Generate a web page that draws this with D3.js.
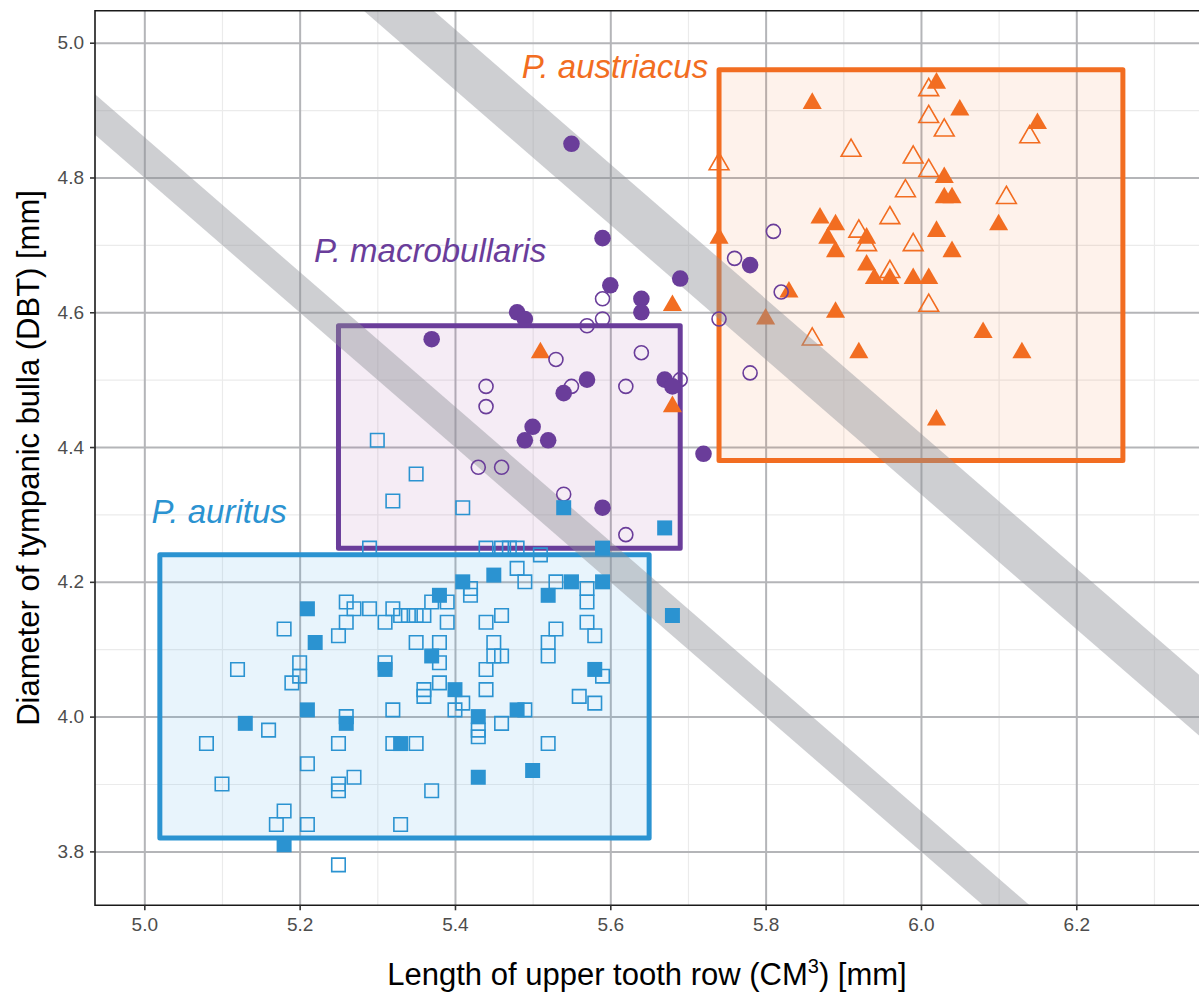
<!DOCTYPE html>
<html>
<head>
<meta charset="utf-8">
<script src="https://d3js.org/d3.v7.min.js"></script>
<style>
  body { margin: 0; background: #fff; }
  svg { display: block; font-family: "Liberation Sans", Arial, Helvetica, sans-serif; }
</style>
</head>
<body>
<svg id="chart" width="1199" height="994"></svg>
<script>
// ---- data ----
var xTicks = [5.0, 5.2, 5.4, 5.6, 5.8, 6.0, 6.2];
var yTicks = [3.8, 4.0, 4.2, 4.4, 4.6, 4.8, 5.0];
var xMinor = [5.1, 5.3, 5.5, 5.7, 5.9, 6.1, 6.3];
var yMinor = [3.9, 4.1, 4.3, 4.5, 4.7, 4.9];

// P. auritus (squares)
var auritusFilled = [
  [5.54,4.31],[5.67,4.28],[5.59,4.25],[5.68,4.15],[5.45,4.21],[5.41,4.20],[5.55,4.20],
  [5.59,4.20],[5.52,4.18],[5.38,4.18],[5.21,4.16],[5.22,4.11],[5.37,4.09],[5.31,4.07],
  [5.58,4.07],[5.40,4.04],[5.21,4.01],[5.48,4.01],[5.43,4.00],[5.13,3.99],[5.26,3.99],
  [5.33,3.96],[5.50,3.92],[5.43,3.91],[5.18,3.81]
];
var auritusOpen = [
  [5.30,4.41],[5.35,4.36],[5.32,4.32],[5.41,4.31],
  [5.29,4.25],[5.44,4.25],[5.46,4.25],[5.47,4.25],[5.48,4.25],[5.51,4.24],[5.48,4.22],
  [5.49,4.20],[5.53,4.20],[5.42,4.19],[5.57,4.19],[5.42,4.18],
  [5.26,4.17],[5.37,4.17],[5.39,4.17],[5.57,4.17],[5.27,4.16],[5.29,4.16],[5.32,4.16],
  [5.33,4.15],[5.34,4.15],[5.35,4.15],[5.36,4.15],[5.46,4.15],
  [5.26,4.14],[5.31,4.14],[5.39,4.14],[5.44,4.14],[5.57,4.14],[5.18,4.13],[5.53,4.13],
  [5.25,4.12],[5.58,4.12],[5.35,4.11],[5.38,4.11],[5.45,4.11],[5.52,4.11],
  [5.45,4.09],[5.46,4.09],[5.52,4.09],[5.20,4.08],[5.31,4.08],[5.38,4.08],
  [5.12,4.07],[5.44,4.07],[5.20,4.06],[5.59,4.06],[5.19,4.05],[5.38,4.05],
  [5.36,4.04],[5.44,4.04],[5.36,4.03],[5.56,4.03],[5.41,4.02],[5.58,4.02],
  [5.32,4.01],[5.40,4.01],[5.49,4.01],[5.26,4.00],[5.46,3.99],[5.16,3.98],[5.43,3.98],
  [5.43,3.97],[5.08,3.96],[5.25,3.96],[5.32,3.96],[5.35,3.96],[5.52,3.96],
  [5.21,3.93],[5.27,3.91],[5.10,3.90],[5.25,3.90],[5.25,3.89],[5.37,3.89],
  [5.18,3.86],[5.17,3.84],[5.21,3.84],[5.33,3.84],[5.25,3.78]
];

// P. macrobullaris (circles)
var macroFilled = [
  [5.55,4.85],[5.59,4.71],[5.60,4.64],[5.69,4.65],[5.64,4.62],[5.64,4.60],[5.48,4.60],
  [5.49,4.59],[5.78,4.67],[5.37,4.56],[5.57,4.50],[5.54,4.48],[5.67,4.50],[5.68,4.49],
  [5.50,4.43],[5.49,4.41],[5.52,4.41],[5.72,4.39],[5.59,4.31]
];
var macroOpen = [
  [5.81,4.72],[5.76,4.68],[5.82,4.63],[5.59,4.62],[5.59,4.59],[5.57,4.58],[5.74,4.59],
  [5.78,4.51],[5.64,4.54],[5.53,4.53],[5.44,4.49],[5.44,4.46],[5.55,4.49],[5.62,4.49],
  [5.69,4.50],[5.43,4.37],[5.46,4.37],[5.54,4.33],[5.62,4.27]
];

// P. austriacus (triangles)
var austFilled = [
  [5.86,4.91],[6.02,4.94],[6.05,4.90],[6.15,4.88],[6.03,4.80],[6.03,4.77],[6.04,4.77],
  [5.87,4.74],[5.89,4.73],[5.88,4.71],[5.89,4.69],[5.93,4.71],[5.93,4.67],[5.94,4.65],
  [5.96,4.65],[5.99,4.65],[6.01,4.65],[6.02,4.72],[6.04,4.69],[6.10,4.73],[5.89,4.60],
  [5.74,4.71],[5.83,4.63],[5.80,4.59],[5.68,4.61],[5.51,4.54],[5.68,4.46],[5.92,4.54],
  [6.08,4.57],[6.13,4.54],[6.02,4.44]
];
var austOpen = [
  [5.74,4.82],[6.01,4.93],[6.01,4.89],[6.03,4.87],[6.14,4.86],[5.91,4.84],[5.99,4.83],
  [6.01,4.81],[5.98,4.78],[6.11,4.77],[5.96,4.74],[5.92,4.72],[5.93,4.70],[5.99,4.70],
  [5.96,4.66],[6.01,4.61],[5.86,4.56]
];

// species ranges [xmin, xmax, ymin, ymax]
var auritusBox = [5.02, 5.65, 3.82, 4.24];
var macroBox = [5.25, 5.69, 4.25, 4.58];
var austBox = [5.74, 6.26, 4.38, 4.96];

// diagonal bands: x + y = centre, +/- half width
var bandCentres = [9.83, 10.375];
var bandHalf = [0.03, 0.045];

// ---- drawing ----
var BLUE = "#2b93d1", PURPLE = "#6a3d9a", ORANGE = "#f26d21";
var pL = 95, pT = 10.7, pR = 1199, pB = 905.3;

var x = d3.scaleLinear().domain([4.9365, 6.358]).range([pL, pR]);
var y = d3.scaleLinear().domain([3.72, 5.0475]).range([pB, pT]);

var svg = d3.select("#chart");
svg.append("defs").append("clipPath").attr("id", "panel")
  .append("rect").attr("x", pL).attr("y", pT)
  .attr("width", pR - pL + 10).attr("height", pB - pT);

var plot = svg.append("g").attr("clip-path", "url(#panel)");

// grid lines
function grid(vals, vertical, color, width) {
  var g = plot.append("g");
  if (vertical) {
    g.attr("transform", "translate(0," + pB + ")")
      .call(d3.axisBottom(x).tickValues(vals).tickSize(-(pB - pT)).tickFormat(""));
  } else {
    g.attr("transform", "translate(" + pL + ",0)")
      .call(d3.axisLeft(y).tickValues(vals).tickSize(-(pR - pL + 10)).tickFormat(""));
  }
  g.select(".domain").remove();
  g.selectAll("line").attr("stroke", color).attr("stroke-width", width);
}
grid(xMinor, true, "#ebebeb", 1.2);
grid(yMinor, false, "#ebebeb", 1.2);
grid(xTicks, true, "#b4b5b8", 2);
grid(yTicks, false, "#b4b5b8", 2);

// boxes
function box(b, color, fill, fillOpacity) {
  plot.append("rect")
    .attr("x", x(b[0])).attr("y", y(b[3]))
    .attr("width", x(b[1]) - x(b[0])).attr("height", y(b[2]) - y(b[3]))
    .attr("fill", fill).attr("fill-opacity", fillOpacity)
    .attr("stroke", color).attr("stroke-width", 5).attr("stroke-linejoin", "round");
}
box(auritusBox, BLUE, "#3fa3e6", 0.12);
box(macroBox, PURPLE, "#a0409f", 0.1);
box(austBox, ORANGE, ORANGE, 0.09);

// point helpers
function points(data, type, size, color, filled) {
  plot.append("g").selectAll("path").data(data).enter().append("path")
    .attr("transform", function (d) { return "translate(" + x(d[0]) + "," + y(d[1]) + ")"; })
    .attr("d", d3.symbol().type(type).size(size))
    .attr("fill", filled ? color : "none")
    .attr("stroke", filled ? "none" : color)
    .attr("stroke-width", filled ? 0 : 1.6);
}

points(austOpen, d3.symbolTriangle, 170, ORANGE, false);
points(austFilled, d3.symbolTriangle, 158, ORANGE, true);

// bands
var bandLine = d3.line().x(function (d) { return x(d[0]); }).y(function (d) { return y(d[1]); });
bandCentres.forEach(function (c, i) {
  var w = bandHalf[i];
  var pts = [[4.5, c + w - 4.5], [7, c + w - 7], [7, c - w - 7], [4.5, c - w - 4.5]];
  plot.append("path").attr("d", bandLine(pts) + "Z")
    .attr("fill", "#8d9096").attr("fill-opacity", 0.43);
});

points(macroOpen, d3.symbolCircle, 154, PURPLE, false);
points(macroFilled, d3.symbolCircle, 216, PURPLE, true);
points(auritusOpen, d3.symbolSquare, 182, BLUE, false);
points(auritusFilled, d3.symbolSquare, 225, BLUE, true);

// panel border
svg.append("path")
  .attr("d", "M" + (pR + 5) + "," + pT + "H" + pL + "V" + pB + "H" + (pR + 5))
  .attr("fill", "none").attr("stroke", "#1a1a1a").attr("stroke-width", 1.6);

// axes with tick labels
var xAxis = svg.append("g").attr("transform", "translate(0," + pB + ")")
  .call(d3.axisBottom(x).tickValues(xTicks).tickSize(5).tickPadding(7).tickFormat(d3.format(".1f")));
var yAxis = svg.append("g").attr("transform", "translate(" + pL + ",0)")
  .call(d3.axisLeft(y).tickValues(yTicks).tickSize(5).tickPadding(6).tickFormat(d3.format(".1f")));
[xAxis, yAxis].forEach(function (a) {
  a.attr("font-size", 19).attr("font-family", "'Liberation Sans', Arial, sans-serif");
  a.select(".domain").remove();
  a.selectAll("line").attr("stroke", "#333").attr("stroke-width", 1.6);
  a.selectAll("text").attr("fill", "#4d4d4d").attr("font-size", 19).style("font-size", "19px");
});

// species labels
function label(txt, lx, ly, color) {
  svg.append("text").attr("x", x(lx)).attr("y", y(ly))
    .attr("text-anchor", "middle").attr("fill", color)
    .style("font-size", "33px").style("font-style", "italic").text(txt);
}
label("P. austriacus", 5.606, 4.9476, ORANGE);
label("P. macrobullaris", 5.368, 4.675, PURPLE);
label("P. auritus", 5.0964, 4.287, BLUE);

// axis titles
var xt = svg.append("text").attr("x", (pL + pR) / 2).attr("y", 985)
  .attr("text-anchor", "middle").attr("fill", "#000").style("font-size", "31px");
xt.append("tspan").text("Length of upper tooth row (CM");
xt.append("tspan").attr("dy", -12).style("font-size", "20px").text("3");
xt.append("tspan").attr("dy", 12).text(") [mm]");

svg.append("text")
  .attr("transform", "translate(39," + ((pT + pB) / 2) + ") rotate(-90)")
  .attr("text-anchor", "middle").attr("fill", "#000").style("font-size", "31px")
  .text("Diameter of tympanic bulla (DBT) [mm]");
</script>
</body>
</html>
